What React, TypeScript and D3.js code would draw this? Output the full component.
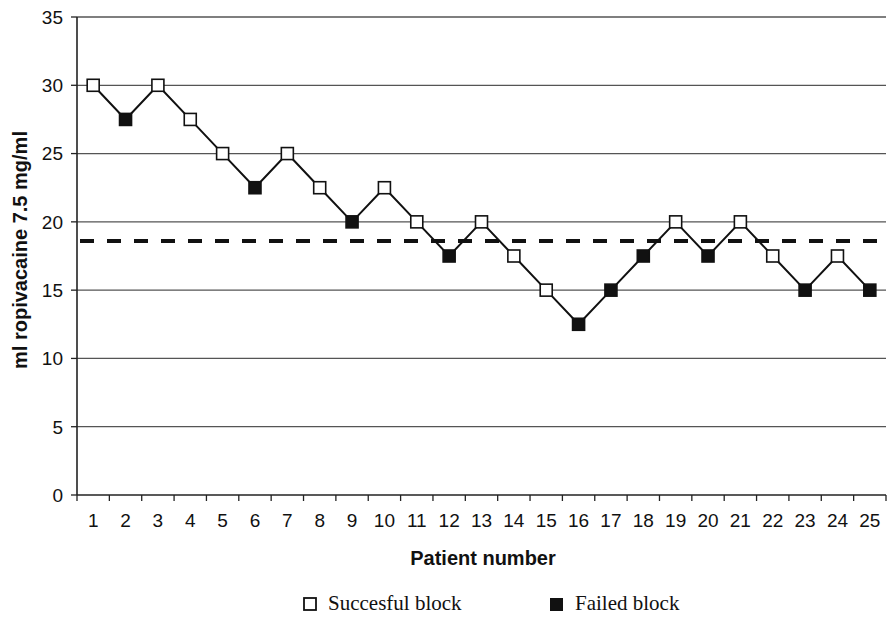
import React from 'react';
import * as d3 from 'd3';

const patients = d3.range(1, 26);
const doses = [30, 27.5, 30, 27.5, 25, 22.5, 25, 22.5, 20, 22.5, 20, 17.5, 20, 17.5, 15, 12.5, 15, 17.5, 20, 17.5, 20, 17.5, 15, 17.5, 15];
const failed = [0, 1, 0, 0, 0, 1, 0, 0, 1, 0, 0, 1, 0, 0, 0, 1, 1, 1, 0, 1, 0, 0, 1, 0, 1];
const yTicks = [0, 5, 10, 15, 20, 25, 30, 35];
const ed50 = 18.6;

const App = () => {
    const width = 887;
    const height = 618;
    const left = 77;
    const right = 886;
    const top = 17;
    const bottom = 495;

    const x = d3.scaleBand<number>().domain(patients).range([left, right]);
    const y = d3.scaleLinear().domain([0, 35]).range([bottom, top]);
    const cx = (p: number) => (x(p) as number) + x.bandwidth() / 2;

    const line = d3
        .line<number>()
        .x((d, i) => cx(patients[i]))
        .y((d) => y(d));

    const sans = 'Arial, "Liberation Sans", sans-serif';
    const serif = '"Times New Roman", "Liberation Serif", serif';

    return (
        <svg width={width} height={height} style={{ position: 'absolute', left: 0, top: 0, background: '#fff' }}>
            {/* grid */}
            {yTicks.map((t) => (
                <g key={t}>
                    {t > 0 && <line x1={left} x2={right} y1={y(t)} y2={y(t)} stroke="#555" strokeWidth={1.3} />}
                    <line x1={left - 6} x2={left} y1={y(t)} y2={y(t)} stroke="#222" strokeWidth={1.3} />
                    <text x={left - 14} y={y(t)} dy="0.36em" textAnchor="end" fontFamily={sans} fontSize={19} fill="#111">
                        {t}
                    </text>
                </g>
            ))}
            {/* axes */}
            <line x1={left} x2={left} y1={top} y2={bottom} stroke="#222" strokeWidth={1.6} />
            <line x1={left} x2={right} y1={bottom} y2={bottom} stroke="#222" strokeWidth={1.6} />
            {patients.concat([26]).map((p, i) => {
                const xx = left + i * x.bandwidth();
                return <line key={'t' + p} x1={xx} x2={xx} y1={bottom} y2={bottom + 6} stroke="#222" strokeWidth={1.3} />;
            })}
            {patients.map((p) => (
                <text key={'l' + p} x={cx(p)} y={bottom + 32} textAnchor="middle" fontFamily={sans} fontSize={19} fill="#111">
                    {p}
                </text>
            ))}
            {/* ED50 line */}
            <line x1={left + 3} x2={right} y1={y(ed50)} y2={y(ed50)} stroke="#111" strokeWidth={4} strokeDasharray="14 13" />
            {/* series */}
            <path d={line(doses) as string} fill="none" stroke="#111" strokeWidth={2} />
            {doses.map((d, i) => (
                <rect
                    key={'m' + i}
                    x={cx(patients[i]) - 6}
                    y={y(d) - 6}
                    width={12}
                    height={12}
                    fill={failed[i] ? '#111' : '#fff'}
                    stroke="#111"
                    strokeWidth={1.6}
                />
            ))}
            {/* titles */}
            <text x={483} y={565} textAnchor="middle" fontFamily={sans} fontWeight="bold" fontSize={20} fill="#111">
                Patient number
            </text>
            <text
                transform={`translate(27,250) rotate(-90)`}
                textAnchor="middle"
                fontFamily={sans}
                fontWeight="bold"
                fontSize={20}
                fill="#111"
            >
                ml ropivacaine 7.5 mg/ml
            </text>
            {/* legend */}
            <rect x={304} y={598} width={12} height={12} fill="#fff" stroke="#111" strokeWidth={1.8} />
            <text x={328} y={610} fontFamily={serif} fontSize={21} fill="#111">
                Succesful block
            </text>
            <rect x={550} y={598} width={13} height={13} fill="#111" />
            <text x={575} y={610} fontFamily={serif} fontSize={21} fill="#111">
                Failed block
            </text>
        </svg>
    );
};

export default App;
